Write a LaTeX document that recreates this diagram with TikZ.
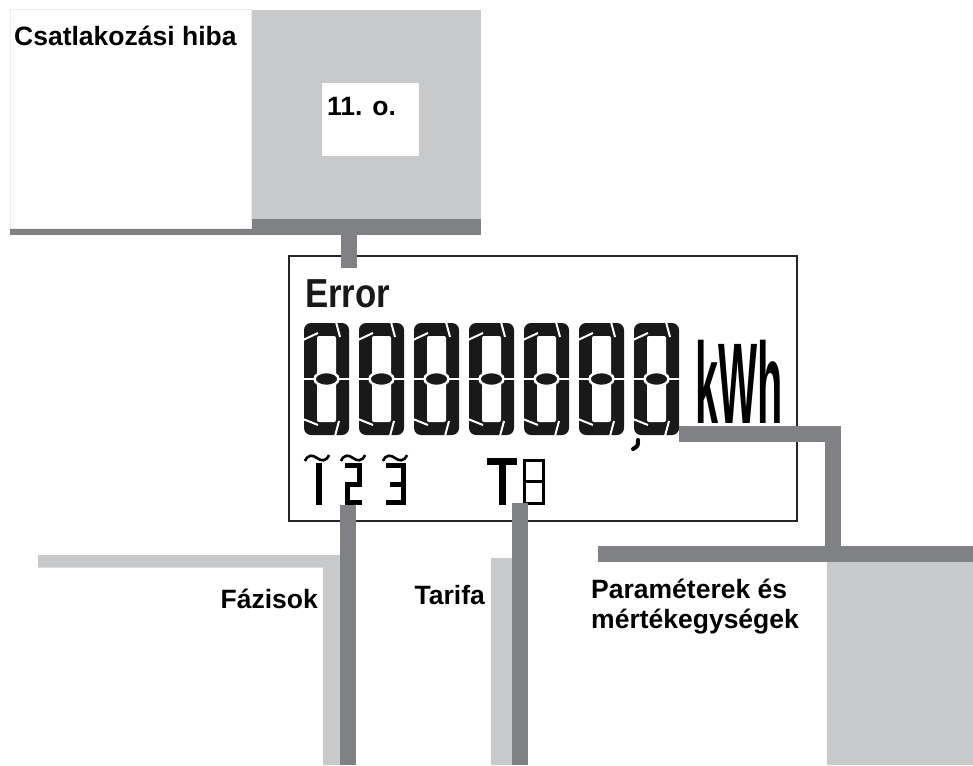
\documentclass[tikz,border=0pt]{standalone}
\usepackage{fontspec}
\setmainfont{Liberation Sans}
\newfontfamily\lcdfont[FakeStretch=0.36]{Liberation Sans}
\newfontfamily\errfont[FakeStretch=0.86]{Liberation Sans}
\usetikzlibrary{positioning}
\definecolor{lightbar}{RGB}{200,201,203}
\definecolor{darkbar}{RGB}{128,129,133}

\begin{document}
\begin{tikzpicture}[x=1pt,y=-1pt,line join=miter,
    lbl/.style={font=\fontsize{26.5}{30}\selectfont\bfseries,inner sep=0pt},
    darkline/.style={draw=darkbar,line width=16pt},
    lightfill/.style={fill=lightbar},
    seg/.style={line width=5pt},
    pics/bigdigit/.style={code={
        \fill[black!90,rounded corners=7pt] (0,0) rectangle (45,112);
        \fill[white,rounded corners=2pt] (13,13) rectangle (32,99);
        \draw[white,line width=2.2pt] (-1,56) -- (46,56);
        \draw[white,line width=2pt] (-1,17) -- (14,10);
        \draw[white,line width=2pt] (32,-1) -- (36,14);
        \draw[white,line width=2pt] (-1,96) -- (14,102);
        \draw[white,line width=2pt] (31,113) -- (35,98);
        \draw[white,line width=2.5pt,fill=black!90] (22.5,56) ellipse [x radius=12pt,y radius=7pt];
    }},
    pics/tildemark/.style={code={
        \draw[line width=2.6pt] (-12,5) .. controls (-9,-2) and (-4,-1) .. (0,2) .. controls (4,5) and (9,6) .. (12,-1);
    }}]
\useasboundingbox (0,0) rectangle (973,765);

% top box
\fill[lightfill] (251,10) rectangle (481,219);
\fill[darkbar] (10,219) rectangle (481,235);
\filldraw[fill=white,draw=black!8,line width=1pt] (10,10) rectangle (251,228);
\fill[white] (322,83) rectangle (419,156);
\node[lbl,anchor=base west] (hiba) at (14,46) {Csatlakozási hiba};
\node[lbl,anchor=base west] (oldal) at (327,116) {11. o.};

% display
\node[draw=black!85,line width=1.5pt,minimum width=508pt,minimum height=265pt,inner sep=0pt] (lcd) at (543,388.5) {};
\node[anchor=base west,inner sep=0pt,font=\errfont\bfseries\fontsize{40.5}{44}\selectfont,text=black!90] (err) at (305,307) {Error};
\foreach \i in {0,...,6}
    \pic at ({304+55*\i},323) {bigdigit};
\draw[line width=4pt,line cap=round] (638,440) .. controls (638,446) .. (633,449);
\node[anchor=base west,inner sep=0pt,font=\lcdfont\bfseries\fontsize{115}{120}\selectfont] (unit) at (695,423) {kWh};

% phases and tariff
\pic at (317,456) {tildemark};
\pic at (353,456) {tildemark};
\pic at (395,456) {tildemark};
\draw[seg,line width=6pt] (319,463) -- (319,505);
\draw[seg] (345,465.5) -- (359.5,465.5) -- (359.5,484) -- (347.5,484) -- (347.5,502.5) -- (362,502.5);
\draw[seg] (386,465.5) -- (403.5,465.5) -- (403.5,502.5) -- (386,502.5);
\draw[seg] (390,484) -- (403,484);
\draw[line width=7pt] (487,461.5) -- (517,461.5);
\draw[line width=7pt] (502,458) -- (502,505);
\draw[line width=3pt] (524,460) rectangle (543,503);
\draw[line width=3pt] (524,481.5) -- (543,481.5);

% connectors
\coordinate (topc) at (349,235);
\draw[darkline] (topc) -- (topc |- lcd.north) -- ++(0,13);
\fill[lightfill] (38,555) -- (340,555) -- (340,765) -- (323,765) -- (323,567.5) -- (38,567.5) -- cycle;
\coordinate (fazc) at (348,505);
\draw[darkline] (fazc) -- (fazc |- 0,765);
\fill[lightfill] (491,557.5) rectangle (513,765);
\coordinate (tarc) at (520,503);
\draw[darkline] (tarc) -- (tarc |- 0,765);
\coordinate (unitc) at (679,433.5);
\coordinate (knee) at (833,554);
\draw[darkline] (unitc) -- (unitc -| knee) -- (knee);
\draw[darkline] (598,554) -- (973,554);
\fill[lightfill] (827,562) rectangle (973,765);

% labels
\node[lbl,anchor=base east] (fazis) at (318,608) {Fázisok};
\node[lbl,anchor=base east] (tarifa) at (485,604) {Tarifa};
\node[lbl,anchor=base west] (param) at (591,598) {Paraméterek és};
\node[lbl,anchor=base west] (param2) at ([yshift=-30pt]param.base west) {mértékegységek};
\end{tikzpicture}
\end{document}
